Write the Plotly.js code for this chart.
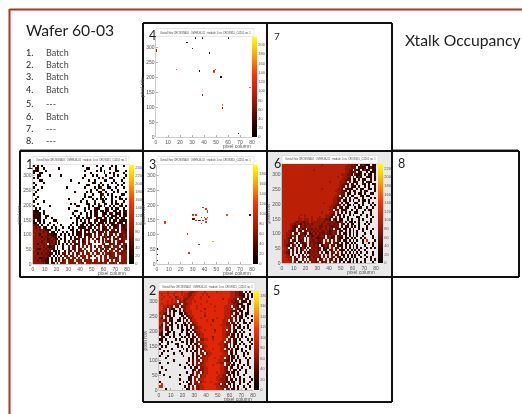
<!DOCTYPE html>
<html><head><meta charset="utf-8">
<script src="https://cdn.plot.ly/plotly-3.0.1.min.js"></script>
<style>html,body{margin:0;padding:0;background:#fff;overflow:hidden}#plot{width:522px;height:414px;filter:blur(0.75px)}</style>
</head><body><div id="plot"></div>
<script>
// Occupancy level per cell: "." = no hits, digit n = n*20 hits. Top row first (row 336 -> 0), column 0 -> 80.
const panel1Rows = [
"1.2.1....................1......1..1....1.1...1..",".21..1.......1.............11.....1....2..1.....1","121...1...................1.....1.1.1.....11...1.","1..21........................1......1..1.1....1..",
"..11....1.....1...........1...1.1....1...2.1...1.","2.1......................1.......1.3...11.....1.1","...11..............1........1..1....11...1...1...","1....1.................1......11..1.....1.2...1.1",
".1.........................11....1.1..1....1.1...","1...1............1........1....1.13...11..1...1..","..1..........................1..1..31...1..1....1",".1...................1.....1.1...11..1...1.2...11",
"1.........................1...1...13..1.1....11..","..1.......................1.11....1.2...1.1.1...1",".1................1......1....1.1.31.1..1...11.2.","1....1..................1..1...2...11...1.2...1.1",
"..1................1.1.....11..1.3..21..1.12.1...","1.......1.............11....1.1..12.1..2.1..31.11",".1.1..............1.......1.1..211...12.1.21..1.2","211..1...............11...1..1.12.21.12..21.1.22.",
"2221.1..............1...1..2.1.21..211.22.122.121","1221..21.............1.1...1.2.21..22.1.122.1.212","2212..1..1.........1..11.1.212..212.21.21.22.21.2","1.21.1....11..........1.1.2.1..22.1212.2.12.22122",
"11.1.1..1...1.......1.1..11.21.2.122.2.222.122.22","332.1..1..1...1....1..1.21.2.12.22.33.2.2223.2232","4343.21..1.1...1..1.1..2212.22.2.3.232.3.223.3232","444343211..1.1.....11.1.2.222.2.23.2233.33.2.3323",
"44444343.21.1..1.1..1.122.2.3.32.233.3.33233.4332","444244433211..1.1.1.1.122.2323.3.33.33.33.4.33433","444414334322.1..1..1.2.23.2.33.3.4.43433.3.433432","4444434134321.1.1..2.223.23.3.4.33.3.4.4.334.3442",
"444424433343.2..1.2.33.3.23.4..4.4.3.433.4.4334.4","4414434.3432.1.1.2.3.233.34.34.....43..344.34.343","44444343132.2..1..3.33.3.4.3.4.3.44.3434.444.3414","44214434332.1..1..3.33.34.4..4..3.43.44.34.43.424",
"444443433.21.1..2.33.4.344.4.3.44.3.43.44.44.4344","4414343322.1.2.33.3.4.34.4.44.4.44.4.44344.44344","444443432.1.2.3.34.34.4.444.43.3..4.44.344.4.444","44412332.1.2.3.3.44.44.4.44.4...4.4.44.44344.444",
"44343322.2.2.3.34.444.444.4444.44.4.444.4.44.444","44444322.23.3.344.4444.444.44444444444.4444.4444"];
const panel6Rows = [
"555555555555555555554555555555555443432.23211.212","55555555555555555555555555555555444333.2212.13123","555555555555555545555555555555554433.321.2312.112","55555555555555555555555555555555443223.21..2.1212",
"555555555555555555555555555555444332.3212.1.21.21","55555555555555555555555555554554433.2.131..212.12","55555555555555555555555555555544332.21.2.11..2.11","555555555555555555555555455554443.3.212..1.212..2",
"5555555555555555555555555555544332.22.1..21.1.11.","55555555555555555555555555555433.3.211.2..1.1..21","5555555555555555555545555555443.3221..2.11..21.1.","555555555555555555555555555444332.1.12..1.21...11",
"55555555555555555555555555554433.21..2.11.1..21..","55555555555555555555555555544.32.2.11...21.11...1","5555555555555555555555555544332.2.1..21..1...1.1.","555555555555555555555555554433.21.1.1..2.11.1...1",
"55555555555555555555545555443.2.21...11..1..2.1..","555555555555555555555555544323.2.11.1..1.1...1.1.","5555555555555555555555554433.31.21...1.11..1..1..","55555555555555555555555544.32.211..1..1...1.21..1",
"555555555555555555554555443.3.2.1.1..11..1...1...","555555555454555555555544433.21.2..1.1...1..1.1..1","55555555455455545554554432.3.2.1.1....11...1..1..","5555555544544454554444332.31.21..1.1...1.1...1..1",
"5555554344334454444443443343233.2.21.1.2...1.1...","55554434324343434444344334333.32.1.21..1..1.1.....","55554323.34334344443343432333.2.12.1.1.1...1....1.","5555432.3423.3434343443433.332.21.1.2..1.1.1..1...",
"5554323.32.32434343433432343.22.2.1.1.1..1...1...1","55443.23.4323.23434333432343.2.21.1.1.1...1..1....","5544343.2343.342343343.3432.332.1.2.1.1..1....1..1","55432.3.243.3.43432333.4323.321.21.1.1..1.1...1...",
"5443.32.323.3.4334333.4.3.3.32.21.1.1.1..1.6...1..","544323.2.3234.3433223.343.332.1.21.1.1...1..1.1...","5432.34.1.323.34343.2343.33.221.1.2.1.1...1...1..1","554.32.3.243.3.34333.232.4.33.2.2.1.1.1.1..1.1.1..",
"5543.2.3.24.3.243433.21.43.3.221.1.1.1.1..1.....1","5432.3.2.1.3.234343.3.22.34.3.2.2.1.1.1.1..1..1.1.","5543.2..3.2.3.434343.3.4.3.23.21.1.1.1.1..1...1.1.","55443.2.3.33.2343433.3.2.43.32.2.1.1.1..1..1.1...1",
"55544.32..3.3.3443.33.4.33.2.21.1.1.1.1...1..1.1..","55554.3.23.3.4.3434.343.3.43.2.1.21.1.1.1.1...1..1"];
const panel2Rows = [
"5555455545545554334455545555545555554443323.2.1.1","54554554555454433445554545555555555544433221.2.1.","55455455245544434455545553555555555544434321.1.1.","5455554544454334445554555555555535544433.32.21..1",
"555545454.3433444545555545555555555443323.212.1..","54554544343.4334455554555545555555544433221..11..","5544343.32.23344555455555555455554444.332.21.1...","5543.321..2.33445554555355555555544443.322.1.1...",
"5443.2.11.2.2344455554555555455554443322.21..1..1","4432.3.1..11.2344555555455555555544433.22.1.11...","54.321.1...21.23445555535555555554443.32.21.1..1.","42.3.21...1.12.33455545555555455544433.2.21..1...",
"4432.21..11.1.2.3445555545535555444.33.2.1.1...1.","54.33.1.1...12.2.3445555555555554433.32.1..11.1..","42.3.21..1.1.12.233455555545555444332.21.1...1...","33.22.1..1.1..1.2.3344555555555544433.2.21.1.1...",
"43.21.1....11.12.23445545555355544.32.21..1...1..","32..11.1...1..1.2.2344555555455544332.21.1.1....1","21.11..1..1...11.2.33445555555554433.21.1.1...1..",".21..1.1...1.1.2.12.344555535555443.322.1.1.1....",
"11.1....1.1...1.12.2.3344554555544.32.21.1...1.1.",".1..1.1....11.1.12.33445555555544.332.21..1...1..","1...1...11....1.1.22.34455555544433.2.21.1.1...1.",".1.1.....1.1...1.2.23.3445555554432.2.1.1...1.1..",
"1.....1.....1.1..1.2.334555455544.32.2.11.1...1..","..1.1.....1...1.1.12.3.344555554433.22.1..1.1...1",".1.....1...1.....1.2.33.34455555443.21.1...1.1...","1...1.......1....1.22.33445555544432.12.1..1....1",
"...1...........1.1.2.334455545544.32.21.1...1.1..",".......1.......1.2.33.34455555444322.1.1.1...1...","1...1.........1..2.3.334555554433.332.1..1...1...","..........1....1.2.33344555455544.32.21.1..1.1...",
".1...........1..1.22.33445555554432.21..2.1...1..","...1.............12.233445555554433.2.11.1..1....","1.............1..2.33.34455554544322.21.1...1...1","..1.......1.....12.3.3445555554433.22.1.1..1.....",
".....1.........12.33.34455555444332.1.1..1....1..","..........1....12.3.344555555443332.21.1.1.1...1.","1...........1.1.2.33.344554555443322.21..2.1..1..",".5........1....12.3344555555443.32.21.1..1...1...",
"55...........1.2.3.3344555555443332.2.1.1..1..1..","...1..........12.3.33445555554443.32.21.1...1...."];
// Isolated hit pixels of the two sparse maps: column, row, hits.
const panel4Col = [0,0,26,30,33,39,60,45,17,36,49,50,49,54,39,56,56,69,78];
const panel4Row = [285,292,315,297,332,330,335,280,225,220,222,226,215,200,140,107,95,13,167];
const panel4Hit = [100,100,30,30,30,30,30,40,150,30,120,120,150,30,70,160,80,30,160];
const panel3Col = [30,32,33,35,31,33,39,41,42,42,38,40,42,41,39,37,38,41,7,7,59,79,26,47,35,27,0,0,0];
const panel3Row = [152,150,147,145,165,165,190,185,180,175,155,158,155,150,148,145,135,140,143,135,168,167,103,78,65,38,10,30,50];
const panel3Hit = [40,80,100,40,110,110,110,120,120,110,110,120,110,120,110,120,130,120,120,130,130,40,120,160,100,110,40,40,40];

const slideTitle = "Wafer 60-03", sideTitle = "Xtalk Occupancy";
const listNumbers = ["1.","2.","3.","4.","5.","6.","7.","8."];
const listItems = ["Batch","Batch","Batch","Batch","---","Batch","---","---"];
const panelNames = ["1","2","3","4","5","6","7","8"];
const plotTitle = "Overall hits CROSSTALK_OVER-W-01 ; module 1 roc CROSS15_C4201 roc 1";

const PX = x => x/522, PY = y => 1-y/414;
const scale = [[0,"#000000"],[0.15,"#3a0500"],[0.35,"#9a1800"],[0.5,"#d42408"],[0.62,"#ff3000"],[0.78,"#ff9000"],[0.9,"#ffd000"],[1,"#ffff00"]];

function fromRows(rows){
  const nc=48, nr=rows.length;
  const x=Array.from({length:nc},(_,i)=>(i+0.5)*80/nc);
  const y=Array.from({length:nr},(_,i)=>336-(i+0.5)*336/nr);
  const z=rows.map(r=>Array.from({length:nc},(_,i)=>{const c=r[i]; return (c===undefined||c===".")?null:+c*20;}));
  return {x,y,z};
}
function fromPoints(cols,rows,hits){
  const w=1.2,h=5,nc=67,nr=67;
  const x=Array.from({length:nc},(_,i)=>(i+0.5)*w);
  const y=Array.from({length:nr},(_,i)=>(i+0.5)*h);
  const z=y.map(()=>x.map(()=>null));
  cols.forEach((c,i)=>{z[Math.min(nr-1,Math.floor(rows[i]/h))][Math.min(nc-1,Math.floor(c/w))]=hits[i];});
  return {x,y,z};
}
const panels = [
 {d:fromRows(panel1Rows),        zmax:246, l:33,  r:127, t:165, b:264, cl:129},
 {d:fromRows(panel2Rows),        zmax:188, l:159, r:253, t:291, b:390, cl:254},
 {d:fromPoints(panel3Col,panel3Row,panel3Hit), zmax:198, l:157, r:252, t:165, b:264, cl:253},
 {d:fromPoints(panel4Col,panel4Row,panel4Hit), zmax:217, l:156, r:252, t:37,  b:137, cl:252},
 {d:fromRows(panel6Rows),        zmax:230, l:282, r:376, t:164, b:263, cl:378}
];
const traces=[], layout={width:522,height:414,margin:{l:0,r:0,t:0,b:0},paper_bgcolor:"#fff",plot_bgcolor:"#fff",showlegend:false,
  font:{family:"Liberation Sans, Arial, sans-serif",color:"#444"},shapes:[],annotations:[]};
const rectPx=(x0,y0,x1,y1,o)=>Object.assign({type:"rect",xref:"paper",yref:"paper",x0:PX(x0),x1:PX(x1),y0:PY(y0),y1:PY(y1),layer:"below",line:{width:0}},o);
const textPx=(x,y,text,size,o)=>Object.assign({xref:"paper",yref:"paper",x:PX(x),y:PY(y),text,showarrow:false,xanchor:"left",yanchor:"middle",
  font:{family:"Lato, sans-serif",size,color:"#222"},borderpad:0},o||{});

panels.forEach((p,i)=>{
  const s=i===0?"":String(i+1);
  traces.push({type:"heatmap",x:p.d.x,y:p.d.y,z:p.d.z,xaxis:"x"+s,yaxis:"y"+s,colorscale:scale,zmin:0,zmax:p.zmax,hoverongaps:false,xgap:0,ygap:0,
    colorbar:{x:PX(p.cl),xanchor:"left",xpad:0,ypad:0,y:PY(p.b),yanchor:"bottom",len:(p.b-p.t)/414,lenmode:"fraction",thickness:5,thicknessmode:"pixels",
      outlinewidth:0,dtick:20,tick0:0,ticks:"",ticklabelposition:"outside",tickfont:{size:4,color:"#555"}}});
  layout["xaxis"+s]={domain:[PX(p.l),PX(p.r)],anchor:"y"+s,range:[0,80],dtick:10,ticks:"inside",ticklen:2,tickwidth:0.5,tickcolor:"#666",showgrid:false,zeroline:false,
    showline:true,linecolor:"#999",linewidth:0.5,tickfont:{size:5,color:"#555"}};
  layout["yaxis"+s]={domain:[PY(p.b),PY(p.t)],anchor:"x"+s,range:[0,336],dtick:50,ticks:"inside",ticklen:2,tickwidth:0.5,tickcolor:"#666",showgrid:false,zeroline:false,
    showline:true,linecolor:"#999",linewidth:0.5,tickfont:{size:5,color:"#555"},title:{text:"pixel row",font:{size:5,color:"#555"},standoff:1}};
  layout.annotations.push(textPx(p.r,p.b+9,"pixel column",5,{xanchor:"right",font:{family:"Liberation Sans, sans-serif",size:5,color:"#555"}}));
  layout.shapes.push(rectPx(p.l,p.t-8.5,p.r+2,p.t-0.5,{fillcolor:"#fff",line:{width:0.5,color:"#ccc"},layer:"above"}));
  layout.annotations.push(textPx((p.l+p.r)/2+1,p.t-4.5,plotTitle,2.6,{xanchor:"center",font:{family:"Liberation Sans, sans-serif",size:2.6,color:"#444"}}));
});

// slide frame, cell backgrounds and cell borders
layout.shapes.push(rectPx(268,152,391,276,{fillcolor:"#e9e9e9"}));
layout.shapes.push(rectPx(144,278,266,401,{fillcolor:"#e9e9e9"}));
const lineAt=(x0,y0,x1,y1,color,width)=>({type:"line",xref:"paper",yref:"paper",x0:PX(x0),x1:PX(x1),y0:PY(y0),y1:PY(y1),line:{color,width},layer:"above"});
const red="#a8352d",blk="#111";
layout.shapes.push(lineAt(9.5,9.5,522,9.5,red,2),lineAt(9.5,9,9.5,414,red,2));
layout.shapes.push(lineAt(20,149.5,143,149.5,"#999",1),lineAt(392,149.5,518,149.5,"#999",1));
layout.shapes.push(lineAt(143,23,392,23,blk,2),lineAt(143,23,143,402,blk,2),lineAt(267,23,267,402,blk,2),lineAt(392,23,392,402,blk,2));
layout.shapes.push(lineAt(19.5,151,519,151,blk,2),lineAt(19.5,277,519,277,blk,2),lineAt(20,151,20,277,blk,2),lineAt(519,151,519,277,blk,2),lineAt(143,402,392,402,blk,2));

layout.annotations.push(textPx(25,30,slideTitle,15.7),textPx(404,40,sideTitle,15.7));
const listY=[52,64,77,90,103,116,128,141];
listNumbers.forEach((n,i)=>{layout.annotations.push(textPx(25,listY[i],n,9),textPx(45,listY[i],listItems[i],9,{font:{family:"Lato, sans-serif",size:9,color:"#444"}}));});
const lab={"1":[25,164],"2":[148,290],"3":[148,164],"4":[148,36],"5":[272,290],"6":[273,163],"7":[273,36],"8":[397,163]};
panelNames.forEach(n=>layout.annotations.push(textPx(lab[n][0],lab[n][1],n,n==="7"?10:12.5)));

Plotly.newPlot("plot",traces,layout,{displayModeBar:false,staticPlot:true});
</script></body></html>
